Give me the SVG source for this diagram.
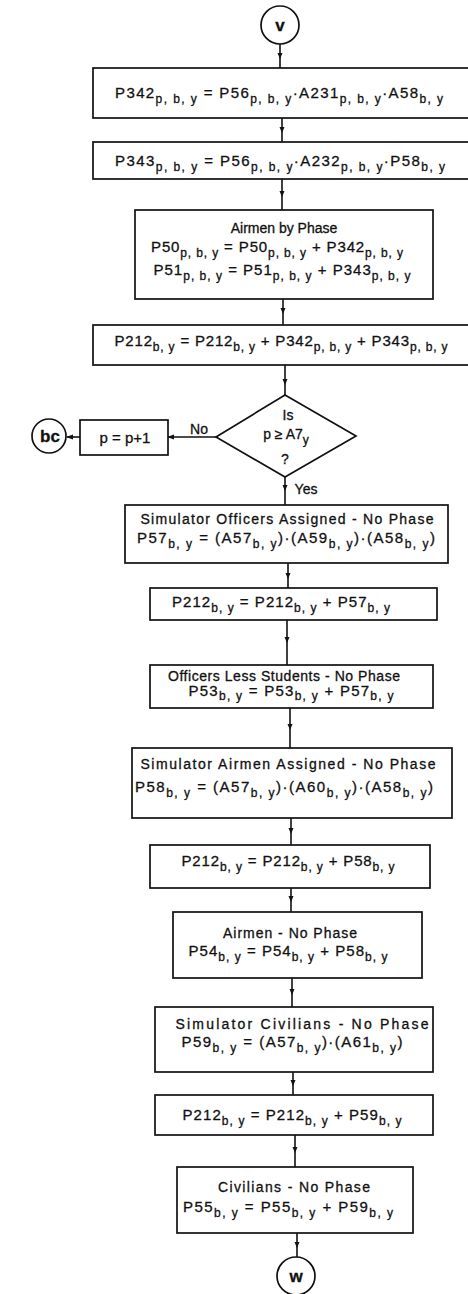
<svg xmlns="http://www.w3.org/2000/svg" width="468" height="1294" viewBox="0 0 468 1294">
<style>
.bx{fill:#fff;stroke:#111;stroke-width:1.7}
.cn{fill:none;stroke:#111;stroke-width:1.6}
text{font-family:"Liberation Sans","DejaVu Sans",sans-serif;font-size:15px;fill:#111;text-anchor:middle;stroke:#111;stroke-width:0.3}
.t{font-size:14px}
.s{font-size:12px}
.big{font-size:17px;font-weight:bold}
</style>
<defs>
<marker id="ah" markerWidth="6" markerHeight="6" refX="3" refY="3" orient="auto" markerUnits="userSpaceOnUse">
<path d="M0,0.5 L6,3 L0,5.5 z" fill="#111"/>
</marker>
<marker id="ae" markerWidth="7" markerHeight="6" refX="6" refY="3" orient="auto" markerUnits="userSpaceOnUse">
<path d="M0,0.5 L7,3 L0,5.5 z" fill="#111"/>
</marker>
</defs>
<rect width="468" height="1294" fill="#fff"/>

<g id="connectors">
<path class="cn" d="M280,44 L280,56 L280,68" marker-mid="url(#ah)"/>
<path class="cn" d="M282,118 L282,130 L282,142" marker-mid="url(#ah)"/>
<path class="cn" d="M282,179 L282,194 L282,210" marker-mid="url(#ah)"/>
<path class="cn" d="M283,299 L283,311 L283,325" marker-mid="url(#ah)"/>
<path class="cn" d="M285,365 L285,382 L285,395" marker-mid="url(#ah)"/>
<path class="cn" d="M285,477 L285,488 L285,505" marker-mid="url(#ah)"/>
<path class="cn" d="M216,437 L168,437" marker-end="url(#ae)"/>
<path class="cn" d="M80,437 L67,437" marker-end="url(#ae)"/>
<path class="cn" d="M288,563 L288,576 L288,588" marker-mid="url(#ah)"/>
<path class="cn" d="M287,620 L287,640 L287,665" marker-mid="url(#ah)"/>
<path class="cn" d="M290,708 L290,727 L290,748" marker-mid="url(#ah)"/>
<path class="cn" d="M291,818 L291,831 L291,845" marker-mid="url(#ah)"/>
<path class="cn" d="M291,888 L291,899 L291,912" marker-mid="url(#ah)"/>
<path class="cn" d="M292,978 L292,992 L292,1007" marker-mid="url(#ah)"/>
<path class="cn" d="M293,1072 L293,1083 L293,1095" marker-mid="url(#ah)"/>
<path class="cn" d="M295,1135 L295,1150 L295,1167" marker-mid="url(#ah)"/>
<path class="cn" d="M297,1233 L297,1245 L297,1257" marker-mid="url(#ah)"/>
</g>

<g id="start-v">
<circle class="bx" cx="280" cy="25" r="19"/>
<text class="big" x="280" y="31">v</text>
</g>

<g id="box-p342">
<rect class="bx" x="93" y="68" width="380" height="50"/>
<text x="279" y="98" textLength="328" lengthAdjust="spacing">P342<tspan class="s" dy="5">p, b, y</tspan><tspan dy="-5"> = P56</tspan><tspan class="s" dy="5">p, b, y</tspan><tspan dy="-5">·A231</tspan><tspan class="s" dy="5">p, b, y</tspan><tspan dy="-5">·A58</tspan><tspan class="s" dy="5">b, y</tspan></text>
</g>

<g id="box-p343">
<rect class="bx" x="93" y="142" width="380" height="37"/>
<text x="280" y="166" textLength="330" lengthAdjust="spacing">P343<tspan class="s" dy="5">p, b, y</tspan><tspan dy="-5"> = P56</tspan><tspan class="s" dy="5">p, b, y</tspan><tspan dy="-5">·A232</tspan><tspan class="s" dy="5">p, b, y</tspan><tspan dy="-5">·P58</tspan><tspan class="s" dy="5">b, y</tspan></text>
</g>

<g id="box-airmen-phase">
<rect class="bx" x="135" y="210" width="298" height="89"/>
<text class="t" x="284" y="233">Airmen by Phase</text>
<text x="277" y="252" textLength="252" lengthAdjust="spacing">P50<tspan class="s" dy="5">p, b, y</tspan><tspan dy="-5"> = P50</tspan><tspan class="s" dy="5">p, b, y</tspan><tspan dy="-5"> + P342</tspan><tspan class="s" dy="5">p, b, y</tspan></text>
<text x="282" y="275" textLength="257" lengthAdjust="spacing">P51<tspan class="s" dy="5">p, b, y</tspan><tspan dy="-5"> = P51</tspan><tspan class="s" dy="5">p, b, y</tspan><tspan dy="-5"> + P343</tspan><tspan class="s" dy="5">p, b, y</tspan></text>
</g>

<g id="box-p212-a">
<rect class="bx" x="93" y="325" width="380" height="40"/>
<text x="281" y="346" textLength="333" lengthAdjust="spacing">P212<tspan class="s" dy="5">b, y</tspan><tspan dy="-5"> = P212</tspan><tspan class="s" dy="5">b, y</tspan><tspan dy="-5"> + P342</tspan><tspan class="s" dy="5">p, b, y</tspan><tspan dy="-5"> + P343</tspan><tspan class="s" dy="5">p, b, y</tspan></text>
</g>

<g id="decision">
<polygon class="bx" points="285,395 356,436 285,477 216,437"/>
<text class="t" x="288" y="420">Is</text>
<text class="t" x="286" y="439">p ≥ A7<tspan class="s" dy="5">y</tspan></text>
<text class="t" x="285" y="464">?</text>
<text class="t" x="199" y="434">No</text>
<text class="t" x="306" y="494">Yes</text>
</g>

<g id="box-p-inc">
<rect class="bx" x="80" y="420" width="88" height="35"/>
<text x="125" y="443">p = p+1</text>
</g>

<g id="conn-bc">
<circle class="bx" cx="49" cy="436" r="17"/>
<text class="big" x="50" y="442">bc</text>
</g>

<g id="box-sim-officers">
<rect class="bx" x="125" y="505" width="323" height="58"/>
<text class="t" x="287" y="524" textLength="293" lengthAdjust="spacing">Simulator Officers Assigned - No Phase</text>
<text x="286" y="543" textLength="298" lengthAdjust="spacing">P57<tspan class="s" dy="5">b, y</tspan><tspan dy="-5"> = (A57</tspan><tspan class="s" dy="5">b, y</tspan><tspan dy="-5">)·(A59</tspan><tspan class="s" dy="5">b, y</tspan><tspan dy="-5">)·(A58</tspan><tspan class="s" dy="5">b, y</tspan><tspan dy="-5">)</tspan></text>
</g>

<g id="box-p212-b">
<rect class="bx" x="150" y="588" width="287" height="32"/>
<text x="281" y="607" textLength="218" lengthAdjust="spacing">P212<tspan class="s" dy="5">b, y</tspan><tspan dy="-5"> = P212</tspan><tspan class="s" dy="5">b, y</tspan><tspan dy="-5"> + P57</tspan><tspan class="s" dy="5">b, y</tspan></text>
</g>

<g id="box-officers-less">
<rect class="bx" x="150" y="665" width="283" height="43"/>
<text class="t" x="284" y="681" textLength="232" lengthAdjust="spacing">Officers Less Students - No Phase</text>
<text x="291" y="696" textLength="205" lengthAdjust="spacing">P53<tspan class="s" dy="4">b, y</tspan><tspan dy="-4"> = P53</tspan><tspan class="s" dy="4">b, y</tspan><tspan dy="-4"> + P57</tspan><tspan class="s" dy="4">b, y</tspan></text>
</g>

<g id="box-sim-airmen">
<rect class="bx" x="132" y="748" width="320" height="70"/>
<text class="t" x="288" y="769" textLength="295" lengthAdjust="spacing">Simulator Airmen Assigned - No Phase</text>
<text x="284" y="792" textLength="298" lengthAdjust="spacing">P58<tspan class="s" dy="5">b, y</tspan><tspan dy="-5"> = (A57</tspan><tspan class="s" dy="5">b, y</tspan><tspan dy="-5">)·(A60</tspan><tspan class="s" dy="5">b, y</tspan><tspan dy="-5">)·(A58</tspan><tspan class="s" dy="5">b, y</tspan><tspan dy="-5">)</tspan></text>
</g>

<g id="box-p212-c">
<rect class="bx" x="150" y="845" width="280" height="43"/>
<text x="288" y="866" textLength="213" lengthAdjust="spacing">P212<tspan class="s" dy="5">b, y</tspan><tspan dy="-5"> = P212</tspan><tspan class="s" dy="5">b, y</tspan><tspan dy="-5"> + P58</tspan><tspan class="s" dy="5">b, y</tspan></text>
</g>

<g id="box-airmen">
<rect class="bx" x="173" y="912" width="249" height="66"/>
<text class="t" x="290" y="938" textLength="134" lengthAdjust="spacing">Airmen - No Phase</text>
<text x="288" y="956" textLength="199" lengthAdjust="spacing">P54<tspan class="s" dy="5">b, y</tspan><tspan dy="-5"> = P54</tspan><tspan class="s" dy="5">b, y</tspan><tspan dy="-5"> + P58</tspan><tspan class="s" dy="5">b, y</tspan></text>
</g>

<g id="box-sim-civilians">
<rect class="bx" x="155" y="1007" width="278" height="65"/>
<text class="t" x="302" y="1029" textLength="253" lengthAdjust="spacing">Simulator Civilians - No Phase</text>
<text x="292" y="1047" textLength="221" lengthAdjust="spacing">P59<tspan class="s" dy="5">b, y</tspan><tspan dy="-5"> = (A57</tspan><tspan class="s" dy="5">b, y</tspan><tspan dy="-5">)·(A61</tspan><tspan class="s" dy="5">b, y</tspan><tspan dy="-5">)</tspan></text>
</g>

<g id="box-p212-d">
<rect class="bx" x="155" y="1095" width="278" height="40"/>
<text x="292" y="1120" textLength="219" lengthAdjust="spacing">P212<tspan class="s" dy="5">b, y</tspan><tspan dy="-5"> = P212</tspan><tspan class="s" dy="5">b, y</tspan><tspan dy="-5"> + P59</tspan><tspan class="s" dy="5">b, y</tspan></text>
</g>

<g id="box-civilians">
<rect class="bx" x="177" y="1167" width="236" height="66"/>
<text class="t" x="294" y="1192" textLength="152" lengthAdjust="spacing">Civilians - No Phase</text>
<text x="288" y="1212" textLength="210" lengthAdjust="spacing">P55<tspan class="s" dy="5">b, y</tspan><tspan dy="-5"> = P55</tspan><tspan class="s" dy="5">b, y</tspan><tspan dy="-5"> + P59</tspan><tspan class="s" dy="5">b, y</tspan></text>
</g>

<g id="end-w">
<circle class="bx" cx="296" cy="1276" r="19"/>
<text class="big" x="296" y="1282">w</text>
</g>
</svg>
